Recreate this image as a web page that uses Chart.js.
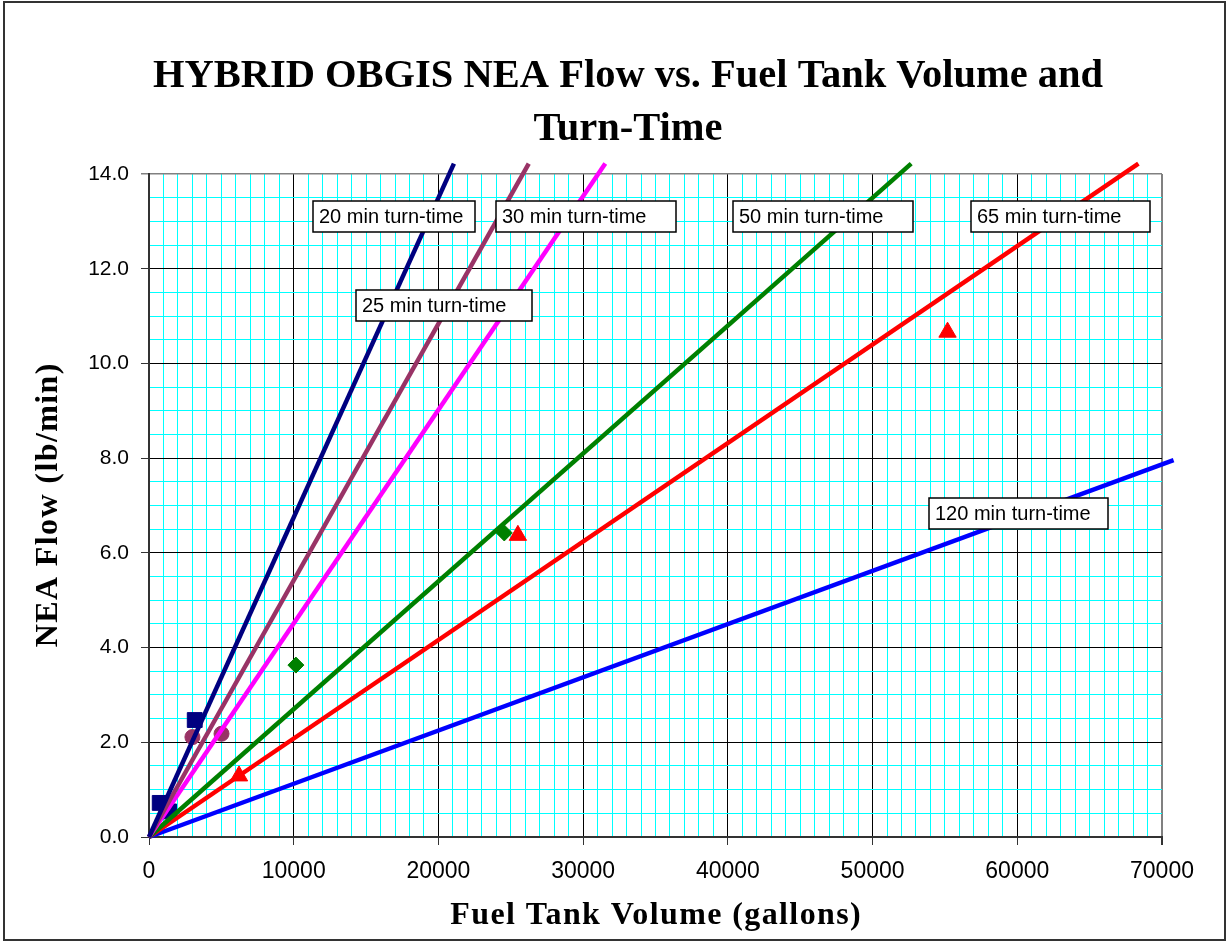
<!DOCTYPE html>
<html>
<head>
<meta charset="utf-8">
<title>HYBRID OBGIS NEA Flow vs. Fuel Tank Volume and Turn-Time</title>
<script src="https://cdn.jsdelivr.net/npm/chart.js@4.4.1/dist/chart.umd.min.js"></script>
<style>
    html, body { margin: 0; padding: 0; background: #fff; }
    #wrap { width: 1228px; height: 941px; position: relative; }
</style>
</head>
<body>
<div id="wrap"><canvas id="neaChart"></canvas></div>
<script>
// Turn-time lines, each running from the origin to its last point
const turnTimes = ['20 min turn-time', '25 min turn-time', '30 min turn-time', '50 min turn-time', '65 min turn-time', '120 min turn-time'];
const lineVolumes = [[0, 21070], [0, 26240], [0, 31530], [0, 52670], [0, 68370], [0, 70800]];
const lineFlows = [[0, 14.22], [0, 14.22], [0, 14.22], [0, 14.22], [0, 14.22], [0, 7.96]];
const lineColors = ['#000080', '#993366', '#FF00FF', '#008000', '#FF0000', '#0000FF'];

// Individual aircraft points
const squareVolumes = [740, 1390, 3160];
const squareFlows = [0.72, 0.54, 2.47];
const circleVolumes = [3000, 5010];
const circleFlows = [2.11, 2.18];
const diamondVolumes = [10150, 24550];
const diamondFlows = [3.63, 6.42];
const triangleVolumes = [6220, 25490, 55180];
const triangleFlows = [1.29, 6.37, 10.66];

// Labelled ticks (minor grid runs every 1000 gal / 0.5 lb/min)
const xTickLabels = [0, 10000, 20000, 30000, 40000, 50000, 60000, 70000];
const yTickLabels = [0, 2, 4, 6, 8, 10, 12, 14];

const chartTitle = ['HYBRID OBGIS NEA Flow vs. Fuel Tank Volume and', 'Turn-Time'];
const xTitle = 'Fuel Tank Volume (gallons)';
const yTitle = 'NEA Flow (lb/min)';

// Text boxes naming each line: top-left corner in axis units, width in px
const labelBoxes = [
    { text: turnTimes[0], x: 11312, y: 13.43, w: 162 },
    { text: turnTimes[2], x: 23979, y: 13.43, w: 180 },
    { text: turnTimes[1], x: 14305, y: 11.55, w: 176 },
    { text: turnTimes[3], x: 40336, y: 13.43, w: 180 },
    { text: turnTimes[4], x: 56803, y: 13.43, w: 179 },
    { text: turnTimes[5], x: 53901, y: 7.165, w: 179 }
];

const toPoints = (xs, ys) => xs.map((x, i) => ({ x: x, y: ys[i] }));

const CYAN = '#00FFFF';
const EDGE = '#808080';
const SERIF = '"Liberation Serif", "Times New Roman", serif';
const SANS = '"Liberation Sans", Arial, sans-serif';

// white page with a thin frame, title above the plot
const frame = {
    id: 'frame',
    beforeDraw(chart) {
        const ctx = chart.ctx;
        ctx.save();
        ctx.fillStyle = '#fff';
        ctx.fillRect(0, 0, chart.width, chart.height);
        ctx.strokeStyle = '#333';
        ctx.lineWidth = 2;
        ctx.strokeRect(4, 2, 1221, 938);
        ctx.fillStyle = '#000';
        ctx.font = 'bold 40.5px ' + SERIF;
        ctx.textAlign = 'center';
        ctx.textBaseline = 'alphabetic';
        ctx.fillText(chartTitle[0], 628, 87);
        ctx.fillText(chartTitle[1], 628, 140);
        ctx.restore();
    }
};

const lineLabels = {
    id: 'lineLabels',
    afterDatasetsDraw(chart) {
        const { ctx, scales } = chart;
        ctx.save();
        ctx.font = '20px ' + SANS;
        ctx.textAlign = 'left';
        ctx.textBaseline = 'middle';
        labelBoxes.forEach(b => {
            const left = Math.round(scales.x.getPixelForValue(b.x));
            const top = Math.round(scales.y.getPixelForValue(b.y));
            ctx.fillStyle = '#fff';
            ctx.fillRect(left, top, b.w, 31);
            ctx.strokeStyle = '#000';
            ctx.lineWidth = 1.5;
            ctx.strokeRect(left, top, b.w, 31);
            ctx.fillStyle = '#000';
            ctx.fillText(b.text, left + 6, top + 16);
        });
        ctx.restore();
    }
};

const axisTitles = {
    id: 'axisTitles',
    afterDraw(chart) {
        const { ctx, chartArea } = chart;
        ctx.save();
        ctx.fillStyle = '#000';
        ctx.font = 'bold 32px ' + SERIF;
        ctx.letterSpacing = '1.4px';
        ctx.textAlign = 'center';
        ctx.textBaseline = 'alphabetic';
        ctx.fillText(xTitle, (chartArea.left + chartArea.right) / 2 + 0.7, 924);
        ctx.translate(57, (chartArea.top + chartArea.bottom) / 2);
        ctx.rotate(-Math.PI / 2);
        ctx.fillText(yTitle, 0.7, 0);
        ctx.restore();
    }
};

const lineSets = turnTimes.map((name, i) => ({
    label: name,
    data: toPoints(lineVolumes[i], lineFlows[i]),
    showLine: true,
    borderColor: lineColors[i],
    borderWidth: 4.5,
    pointRadius: 0,
    clip: false
}));

const markerSet = (label, xs, ys, color, style, radius) => ({
    label: label,
    data: toPoints(xs, ys),
    showLine: false,
    pointStyle: style,
    pointRadius: radius,
    pointBackgroundColor: color,
    pointBorderColor: color,
    pointBorderWidth: 1
});

new Chart(document.getElementById('neaChart'), {
    type: 'scatter',
    data: {
        datasets: lineSets.concat([
            markerSet('squares', squareVolumes, squareFlows, '#000080', 'rect', 10.5),
            markerSet('circles', circleVolumes, circleFlows, '#993366', 'circle', 7.5),
            markerSet('diamonds', diamondVolumes, diamondFlows, '#008000', 'rectRot', 8),
            markerSet('triangles', triangleVolumes, triangleFlows, '#FF0000', 'triangle', 10)
        ])
    },
    options: {
        responsive: true,
        maintainAspectRatio: false,
        animation: false,
        layout: { padding: { left: 40, right: 66, top: 174, bottom: 0 } },
        plugins: {
            legend: { display: false },
            tooltip: { enabled: false },
            title: { display: false }
        },
        scales: {
            x: {
                type: 'linear',
                min: 0,
                max: 70000,
                afterFit: scale => { scale.height = 104; },
                ticks: {
                    stepSize: 1000,
                    maxTicksLimit: 100,
                    autoSkip: false,
                    maxRotation: 0,
                    minRotation: 0,
                    padding: 13,
                    color: '#000',
                    font: { family: SANS, size: 23 },
                    callback: v => xTickLabels.includes(v) ? String(v) : ''
                },
                grid: {
                    color: c => c.tick.value === 70000 ? EDGE : (c.tick.value % 10000 === 0 ? '#000' : CYAN),
                    lineWidth: c => c.tick.value === 70000 ? 2 : 1,
                    tickColor: c => c.tick.value % 10000 === 0 ? '#333' : 'rgba(0,0,0,0)',
                    tickLength: 8
                },
                border: { color: '#333', width: 2 }
            },
            y: {
                type: 'linear',
                min: 0,
                max: 14,
                afterFit: scale => { scale.width = 109; },
                ticks: {
                    stepSize: 0.5,
                    maxTicksLimit: 100,
                    autoSkip: false,
                    padding: 12,
                    color: '#000',
                    font: { family: SANS, size: 21 },
                    callback: v => yTickLabels.includes(v) ? v.toFixed(1) : ''
                },
                grid: {
                    color: c => c.tick.value === 14 ? EDGE : (c.tick.value % 2 === 0 ? '#000' : CYAN),
                    lineWidth: c => c.tick.value === 14 ? 1.5 : 1,
                    tickColor: c => c.tick.value === 14 ? EDGE : (c.tick.value % 2 === 0 ? '#333' : 'rgba(0,0,0,0)'),
                    tickLength: 8
                },
                border: { color: '#333', width: 2 }
            }
        }
    },
    plugins: [frame, lineLabels, axisTitles]
});
</script>
</body>
</html>
